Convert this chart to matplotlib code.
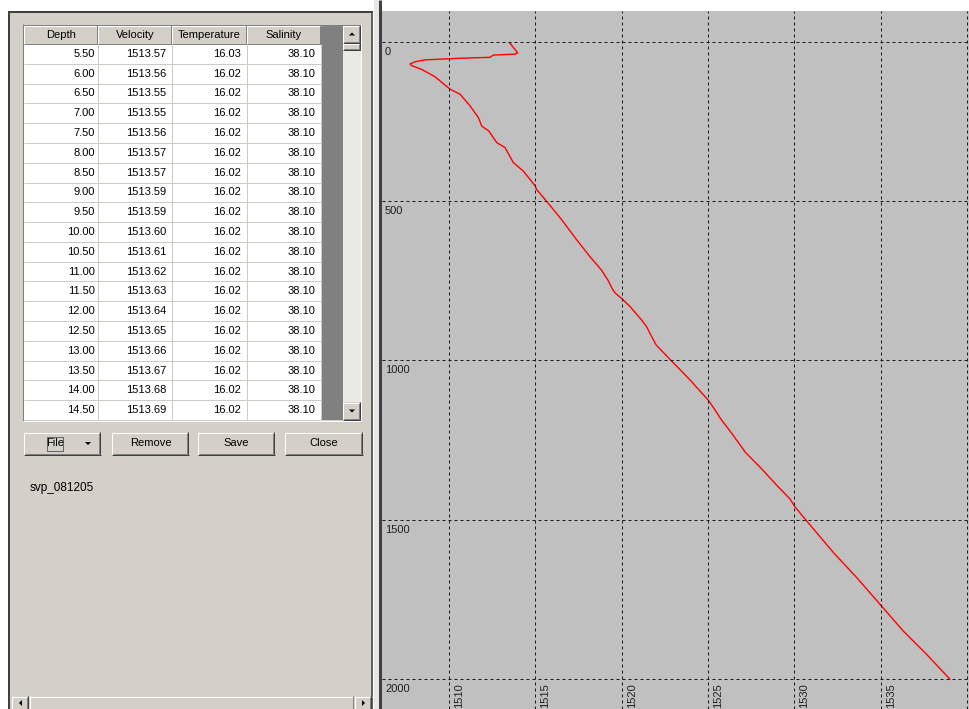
import matplotlib
matplotlib.use("Agg")
from matplotlib import pyplot as plt
from matplotlib.patches import Rectangle, Polygon

plt.rcParams["font.family"] = ["Liberation Sans", "DejaVu Sans"]
plt.rcParams["font.size"] = 8

# table contents
columns = ["Depth", "Velocity", "Temperature", "Salinity"]
depth = [5.50, 6.00, 6.50, 7.00, 7.50, 8.00, 8.50, 9.00, 9.50, 10.00,
         10.50, 11.00, 11.50, 12.00, 12.50, 13.00, 13.50, 14.00, 14.50]
velocity = [1513.57, 1513.56, 1513.55, 1513.55, 1513.56, 1513.57, 1513.57, 1513.59, 1513.59, 1513.60,
            1513.61, 1513.62, 1513.63, 1513.64, 1513.65, 1513.66, 1513.67, 1513.68, 1513.69]
temperature = [16.03, 16.02, 16.02, 16.02, 16.02, 16.02, 16.02, 16.02, 16.02, 16.02,
               16.02, 16.02, 16.02, 16.02, 16.02, 16.02, 16.02, 16.02, 16.02]
salinity = [38.10, 38.10, 38.10, 38.10, 38.10, 38.10, 38.10, 38.10, 38.10, 38.10,
            38.10, 38.10, 38.10, 38.10, 38.10, 38.10, 38.10, 38.10, 38.10]
buttons = ["File", "Remove", "Save", "Close"]
file_name = "svp_081205"

# sound velocity profile
profile_velocity = [1513.53, 1513.98, 1513.82, 1512.57, 1512.37, 1510.64, 1508.61, 1508.03, 1507.74, 1507.84,
                    1508.42, 1509.19, 1510.06, 1510.64, 1511.20, 1511.70, 1511.90, 1512.30, 1512.77, 1513.24,
                    1513.72, 1514.30, 1515.00, 1515.06, 1515.64, 1516.50, 1517.37, 1518.14, 1518.82, 1519.20,
                    1519.49, 1519.65, 1519.98, 1520.48, 1521.15, 1521.44, 1521.73, 1522.00, 1522.89, 1523.95,
                    1525.00, 1525.40, 1525.73, 1526.40, 1527.17, 1528.03, 1529.00, 1529.75, 1530.04, 1530.70,
                    1532.26, 1533.60, 1535.05, 1536.30, 1537.65, 1539.00]
profile_depth = [5, 35, 39, 42, 49, 52, 57, 63, 70, 75,
                 87, 110, 149, 165, 200, 238, 265, 280, 317, 332,
                 379, 406, 453, 463, 500, 557, 620, 673, 716, 748,
                 779, 790, 805, 831, 873, 894, 925, 952, 1002, 1061,
                 1124, 1155, 1183, 1231, 1289, 1336, 1393, 1435, 1460, 1503,
                 1603, 1681, 1771, 1849, 1922, 2000]

x_grid = [1510, 1515, 1520, 1525, 1530, 1535, 1540]
x_labels = ["1510", "1515", "1520", "1525", "1530", "1535"]
y_grid = [0, 500, 1000, 1500, 2000]
y_labels = ["0", "500", "1000", "1500", "2000"]

face = "#D4D0C8"
px = 0.72

fig = plt.figure(figsize=(9.69, 7.09), dpi=100)
fig.patch.set_facecolor("white")
bg = fig.add_axes([0, 0, 1, 1])
bg.set_xlim(0, 969)
bg.set_ylim(709, 0)
bg.axis("off")


def hline(x0, x1, y, color, lw=1):
    bg.plot([x0, x1], [y, y], color=color, lw=lw * px, solid_capstyle="butt")


def vline(x, y0, y1, color, lw=1):
    bg.plot([x, x], [y0, y1], color=color, lw=lw * px, solid_capstyle="butt")


def raised(x0, y0, x1, y1, outer=False):
    bg.add_patch(Rectangle((x0, y0), x1 - x0, y1 - y0, facecolor=face, edgecolor="none"))
    hline(x0, x1, y0 + 0.5, "white")
    vline(x0 + 0.5, y0, y1, "white")
    if outer:
        hline(x0, x1, y1 - 0.5, "#404040")
        vline(x1 - 0.5, y0, y1, "#404040")
        hline(x0 + 1, x1 - 1, y1 - 1.5, "#808080")
        vline(x1 - 1.5, y0 + 1, y1 - 1, "#808080")
    else:
        hline(x0, x1, y1 - 0.5, "#808080")
        vline(x1 - 0.5, y0, y1, "#808080")


def arrow(cx, cy, direction, s=3):
    if direction == "up":
        pts = [(cx - s, cy + s / 2), (cx + s, cy + s / 2), (cx, cy - s / 2)]
    elif direction == "down":
        pts = [(cx - s, cy - s / 2), (cx + s, cy - s / 2), (cx, cy + s / 2)]
    elif direction == "left":
        pts = [(cx + s / 2, cy - s), (cx + s / 2, cy + s), (cx - s / 2, cy)]
    else:
        pts = [(cx - s / 2, cy - s), (cx - s / 2, cy + s), (cx + s / 2, cy)]
    bg.add_patch(Polygon(pts, closed=True, facecolor="black", edgecolor="none"))


# left panel and splitter
bg.add_patch(Rectangle((9, 11), 364, 698, facecolor=face, edgecolor="none"))
vline(9.5, 11, 709, "#404040", 2)
hline(9, 373, 11.5, "#404040", 2)
vline(372.5, 11, 709, "#404040", 1.5)
bg.add_patch(Rectangle((374, 0), 5, 709, facecolor="#E8E6E2", edgecolor="none"))
vline(380.5, 0, 709, "#404040", 3)

# table
col_x = [24, 98, 172, 247, 321]
head_top, head_bot, tab_bot = 25, 44, 420
row_h = (tab_bot - head_bot) / len(depth)
bg.add_patch(Rectangle((24, head_bot), 297, tab_bot - head_bot, facecolor="white", edgecolor="none"))
bg.add_patch(Rectangle((321, head_top), 22, tab_bot - head_top, facecolor="#808080", edgecolor="none"))
for j, name in enumerate(columns):
    raised(col_x[j], head_top, col_x[j + 1], head_bot)
    bg.text((col_x[j] + col_x[j + 1]) / 2, 35, name, ha="center", va="center", color="black")
values = [depth, velocity, temperature, salinity]
pads = [3, 6, 6, 6]
for i in range(len(depth)):
    y = head_bot + (i + 1) * row_h
    hline(24, 321, y, "#CFCBC4")
    for j in range(4):
        bg.text(col_x[j + 1] - pads[j], y - row_h / 2, f"{values[j][i]:.2f}",
                ha="right", va="center", color="black")
for x in col_x[1:]:
    vline(x, head_bot, tab_bot, "#CFCBC4")

# vertical scrollbar
bg.add_patch(Rectangle((343, head_top), 18, tab_bot - head_top, facecolor="#EBE9E5", edgecolor="none"))
raised(343, head_top, 361, 43, outer=True)
arrow(352, 34, "up")
raised(343, 43, 361, 50, outer=True)
raised(343, 402, 361, tab_bot, outer=True)
arrow(352, 411, "down")

# table frame
hline(23, 362, 24.5, "#808080")
vline(23.5, 24, 421, "#808080")
hline(23, 362, 420.5, "white")
vline(361.5, 24, 421, "white")

# buttons
btn_x = [(24, 101), (112, 189), (198, 275), (285, 363)]
for (x0, x1), label in zip(btn_x, buttons):
    raised(x0, 432, x1, 455, outer=True)
    if label == "File":
        bg.text(55, 443.5, label, ha="center", va="center", color="black")
        bg.add_patch(Rectangle((47.5, 436.5), 16, 14, facecolor="none", edgecolor="black",
                               lw=px, linestyle=(0, (1, 1))))
        arrow(88, 443.5, "down")
    else:
        bg.text((x0 + x1) / 2, 443.5, label, ha="center", va="center", color="black")

bg.text(30, 488, file_name, ha="left", va="center", color="black", fontsize=8.5)

# horizontal scrollbar
raised(12, 696, 29, 713, outer=True)
arrow(20.5, 703, "left")
raised(30, 696, 354, 713)
raised(355, 696, 372, 713, outer=True)
arrow(363.5, 703, "right")

# profile plot
ax = fig.add_axes([382 / 969, 0, (969 - 382) / 969, (709 - 11) / 709])
ax.set_facecolor("#C0C0C0")
ax.plot(profile_velocity, profile_depth, color="#FF0000", lw=1.0)
ax.set_xlim(1506.12, 1540.11)
ax.set_ylim(2093.8, -96.3)
for x in x_grid:
    ax.axvline(x, color="#1A1A1A", lw=px, linestyle=(0, (3, 3)))
for y in y_grid:
    ax.axhline(y, color="#1A1A1A", lw=px, linestyle=(0, (3, 3)))
for y, lab in zip(y_grid, y_labels):
    ax.annotate(lab, (0, y), xycoords=("axes fraction", "data"), xytext=(3, -5),
                textcoords="offset pixels", ha="left", va="top", color="#202020")
for x, lab in zip(x_grid, x_labels):
    ax.annotate(lab, (x, 2000), xycoords="data", xytext=(5, -4),
                textcoords="offset pixels", ha="left", va="top", rotation=90, color="#202020")
ax.set_xticks([])
ax.set_yticks([])
for s in ax.spines.values():
    s.set_visible(False)

fig.savefig("out.png", dpi=100, facecolor="white")
